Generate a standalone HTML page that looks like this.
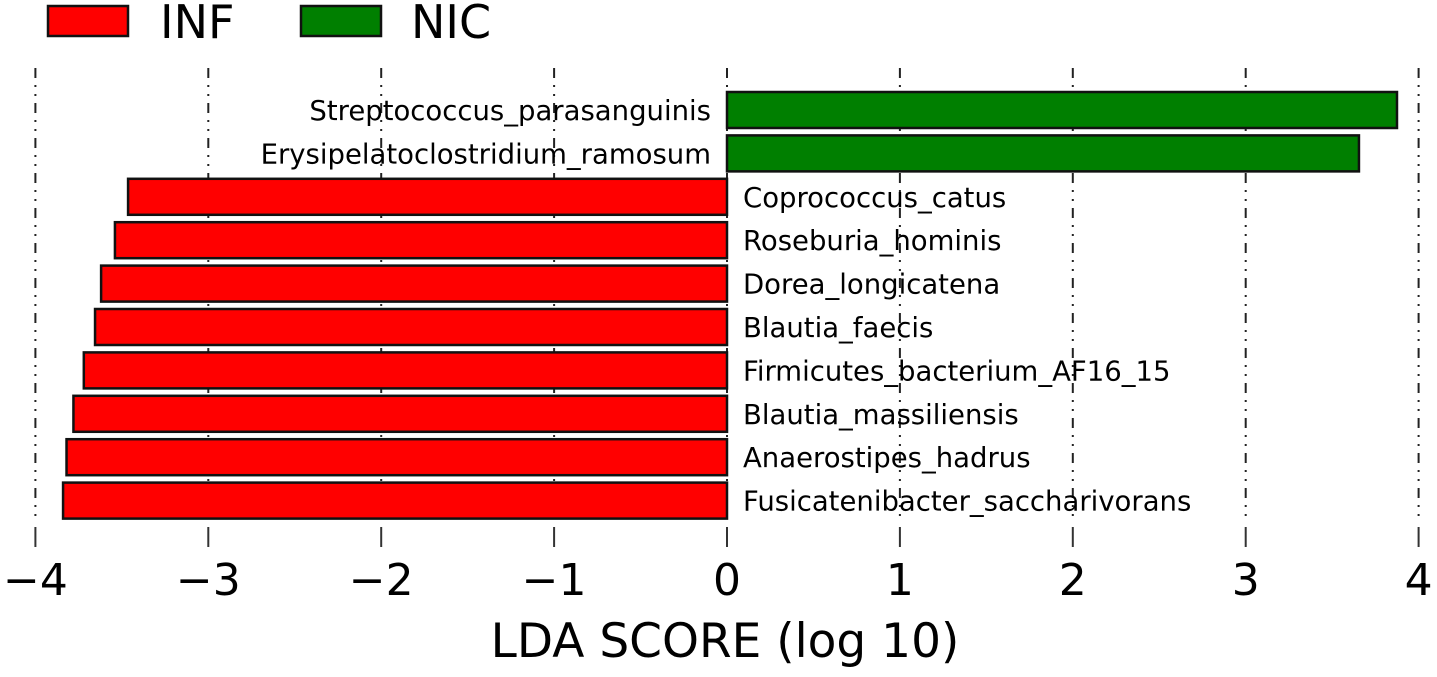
<!DOCTYPE html>
<html><head><meta charset="utf-8"><style>
body{margin:0;background:#fff;}
svg text{font-family:"DejaVu Sans","Liberation Sans",sans-serif;}
</style></head><body>
<svg id="c" width="1437" height="672" xmlns="http://www.w3.org/2000/svg"></svg>
<script>
const categories=["Streptococcus_parasanguinis","Erysipelatoclostridium_ramosum","Coprococcus_catus","Roseburia_hominis","Dorea_longicatena","Blautia_faecis","Firmicutes_bacterium_AF16_15","Blautia_massiliensis","Anaerostipes_hadrus","Fusicatenibacter_saccharivorans"];
const ldaValues=[3.875,3.655,-3.464,-3.54,-3.62,-3.655,-3.72,-3.78,-3.82,-3.84];
const tickValues=[-4,-3,-2,-1,0,1,2,3,4];
const tickLabels=["\u22124","\u22123","\u22122","\u22121","0","1","2","3","4"];
const NS="http://www.w3.org/2000/svg";
const svg=document.getElementById('c');
function X(v){return 727+v*172.9;}
function Y(i){return 110+i*43.4;}
function mk(t,a,p){const e=document.createElementNS(NS,t);for(const k in a)e.setAttribute(k,a[k]);(p||svg).appendChild(e);return e;}
tickValues.forEach((v,i)=>{
  const g=mk('line',{x1:X(v),x2:X(v),y1:68,y2:522,stroke:'#222','stroke-width':2,'stroke-dasharray':'10 7 2 7 2 7'});
  
  
  const t=mk('line',{x1:X(v),x2:X(v),y1:527,y2:547,stroke:'#333','stroke-width':2});
  
  
  const l=mk('text',{x:X(v),y:595,'font-size':44,'text-anchor':'middle',fill:'#000'});
  l.textContent=tickLabels[i];
  
  
});
categories.forEach((c,i)=>{
  const v=ldaValues[i];
  const x0=Math.min(X(0),X(v)),w=Math.abs(X(v)-X(0));
  const b=mk('rect',{x:x0,y:Y(i)-18,width:w,height:36,fill:v>0?'#007f00':'#ff0000',stroke:'#111','stroke-width':2.5});
  
  
  const t=mk('text',{x:v>0?X(0)-16:X(0)+16,y:Y(i)+10,'font-size':27.5,'text-anchor':v>0?'end':'start',fill:'#000'});
  t.textContent=c;
  
  
});
</script>
<svg style="position:absolute;left:0;top:0" width="1437" height="672" xmlns="http://www.w3.org/2000/svg">
<g>
<rect x="48" y="6" width="80" height="30" fill="#ff0000" stroke="#111" stroke-width="2.5"/>
<text x="160" y="38" font-size="46" font-family="DejaVu Sans,Liberation Sans,sans-serif">INF</text>
<rect x="301" y="6" width="80" height="30" fill="#007f00" stroke="#111" stroke-width="2.5"/>
<text x="411" y="38" font-size="46" font-family="DejaVu Sans,Liberation Sans,sans-serif">NIC</text>
</g>
<text x="725" y="657" font-size="47" text-anchor="middle" font-family="DejaVu Sans,Liberation Sans,sans-serif">LDA SCORE (log 10)</text>
</svg>
</body></html>
